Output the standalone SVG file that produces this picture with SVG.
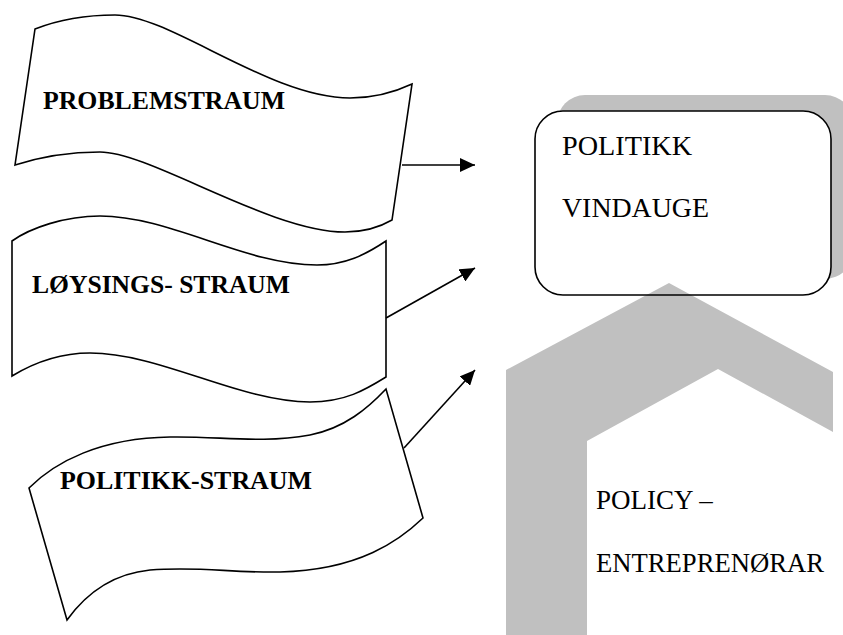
<svg xmlns="http://www.w3.org/2000/svg" width="843" height="635" viewBox="0 0 843 635">
<style>
.wave{fill:#fff;stroke:#000;stroke-width:1.6;stroke-linejoin:miter}
text{font-family:'Liberation Serif','Times New Roman',serif;fill:#000}
.bold{font-weight:bold}
.reg{font-weight:normal}
.gray{fill:#c0c0c0}
.conn{stroke:#000;stroke-width:1.6;fill:none}
</style>
<defs>
<marker id="ah" markerUnits="userSpaceOnUse" markerWidth="16" markerHeight="14" refX="15" refY="7" orient="auto">
<path d="M0,0 L15,7 L0,14 Z" fill="#000"/>
</marker>
</defs>
<rect width="843" height="635" fill="#fff"/>

<g id="problemstraum">
<path class="wave" d="M35,29 C58,20 85,15 115,15 C170,15 270,98 350,98 C375,98 395,92 412,84 L392,220 C380,227 365,232 345,232 C270,232 150,152 100,152 C70,152 40,157 15,165 Z"/>
<text class="bold" x="43" y="109" font-size="26" textLength="242" lengthAdjust="spacingAndGlyphs">PROBLEMSTRAUM</text>
</g>

<g id="loysingsstraum">
<path class="wave" d="M12,241 C30,228 65,216 100,216 C170,216 245,265 317,265 C345,265 365,255 386,241 L386,377 C365,390 345,402 310,402 C240,402 160,353 90,353 C60,353 35,362 12,376 Z"/>
<text class="bold" x="32" y="293" font-size="25.5" textLength="258" lengthAdjust="spacingAndGlyphs">LØYSINGS- STRAUM</text>
</g>

<g id="politikkstraum">
<path class="wave" d="M29,488 C55,462 100,438 170,437 C220,436 260,444 310,435 C345,428 368,408 386,389 L423,518 C400,540 360,570 280,572 C230,573 200,566 150,570 C110,574 85,595 67,620 Z"/>
<text class="bold" x="60" y="489" font-size="26" textLength="252" lengthAdjust="spacingAndGlyphs">POLITIKK-STRAUM</text>
</g>

<g id="politikkvindauge">
<rect class="gray" x="557" y="95" width="296" height="184" rx="28" ry="28"/>
<rect x="535" y="111" width="296" height="184" rx="28" ry="28" fill="#fff"/>
</g>

<g id="policyentreprenorar">
<polygon class="gray" points="506,635 506,370 669,283 833,372 833,432 718,369 587,441 587,635"/>
<text class="reg" x="596" y="509" font-size="27">POLICY –</text>
<text class="reg" x="596" y="572" font-size="27" textLength="228" lengthAdjust="spacingAndGlyphs">ENTREPRENØRAR</text>
</g>

<g id="vindauge-frame">
<rect x="535" y="111" width="296" height="184" rx="28" ry="28" fill="none" stroke="#000" stroke-width="1.6"/>
<text class="reg" x="562" y="155" font-size="28" textLength="130" lengthAdjust="spacingAndGlyphs">POLITIKK</text>
<text class="reg" x="562" y="217" font-size="28" textLength="147" lengthAdjust="spacingAndGlyphs">VINDAUGE</text>
</g>

<g id="connectors">
<line class="conn" x1="402" y1="165" x2="475" y2="165" marker-end="url(#ah)"/>
<line class="conn" x1="386" y1="318" x2="475" y2="268" marker-end="url(#ah)"/>
<line class="conn" x1="404" y1="448" x2="475" y2="370" marker-end="url(#ah)"/>
</g>
</svg>
